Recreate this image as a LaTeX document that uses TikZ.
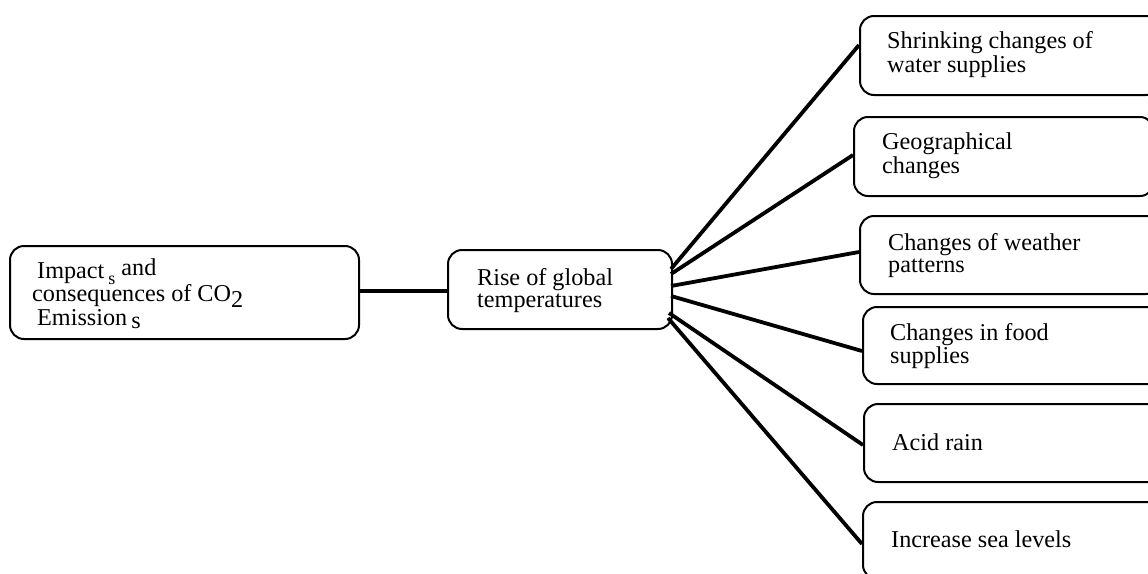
\documentclass[tikz,border=0pt]{standalone}
\usepackage{fontspec}
\setmainfont{Liberation Serif}
\begin{document}
\begin{tikzpicture}[x=1pt,y=-1pt,
  box/.style={draw, line width=2pt, rounded corners=14pt, anchor=north west,
    inner sep=0pt, minimum height=79pt},
  lbl/.style={anchor=base west, inner sep=0pt, align=left,
    font=\fontsize{24.2}{19.5}\selectfont},
  link/.style={line width=3.8pt}]
\useasboundingbox (0,0) rectangle (1148,573);
\begin{scope}
\clip (0,0) rectangle (1148,573);

% source and central boxes
\node[box, minimum width=349pt, minimum height=93pt] (src) at (9,245) {};
\node[box, minimum width=224pt] (mid) at (447,249) {};

% consequence boxes (running off the right edge)
\node[box, minimum width=300pt] (b1) at (859,15) {};
\node[box, minimum width=300pt] (b2) at (853,116) {};
\node[box, minimum width=300pt, minimum height=78pt] (b3) at (859,215) {};
\node[box, minimum width=300pt, minimum height=77pt] (b4) at (862,306) {};
\node[box, minimum width=300pt, minimum height=78pt] (b5) at (863,403) {};
\node[box, minimum width=300pt, minimum height=77pt] (b6) at (862,501) {};

% labels (anchored on the baseline of their last line)
\node[lbl, font=\fontsize{24.2}{21}\selectfont] (srct) at (37,325)
  {Impact\,\raisebox{-6pt}{\fontsize{18}{18}\selectfont s} \raisebox{3pt}{and}\\[-1pt]
   \hspace*{-5pt}consequences of CO\raisebox{-6pt}{2}\\
   Emission\,\raisebox{-3pt}{s}};
\node[lbl, font=\fontsize{24.2}{22}\selectfont] (midt) at (477,307)
  {Rise of global\\temperatures};
\node[lbl] (t1) at (887,72) {Shrinking changes of\\water supplies};
\node[lbl, font=\fontsize{24.2}{21}\selectfont] (t2) at (882,173) {Geographical\\changes};
\node[lbl, font=\fontsize{24.2}{22}\selectfont] (t3) at (888,272) {Changes of weather\\patterns};
\node[lbl, font=\fontsize{24.2}{23}\selectfont] (t4) at (890,363) {Changes in food\\supplies};
\node[lbl] (t5) at (892,450) {Acid rain};
\node[lbl] (t6) at (891,547) {Increase sea levels};

% connector end points on the box sides
\coordinate (m1) at (671,269);
\coordinate (m2) at (671,274);
\coordinate (m3) at (671,286);
\coordinate (m4) at (671,296);
\coordinate (m5) at (669,313);
\coordinate (m6) at (668,318);
\coordinate (e1) at (859,45);
\coordinate (e2) at (853,155);
\coordinate (e3) at (859,252);
\coordinate (e4) at (862,351);
\coordinate (e5) at (863,445);
\coordinate (e6) at (862,544);

\draw[line width=4pt] (src.east |- 0,291) coordinate (s0) -- (mid.west |- s0);
\foreach \i in {1,...,6} \draw[link] (m\i) -- (e\i);
\end{scope}
\end{tikzpicture}
\end{document}
